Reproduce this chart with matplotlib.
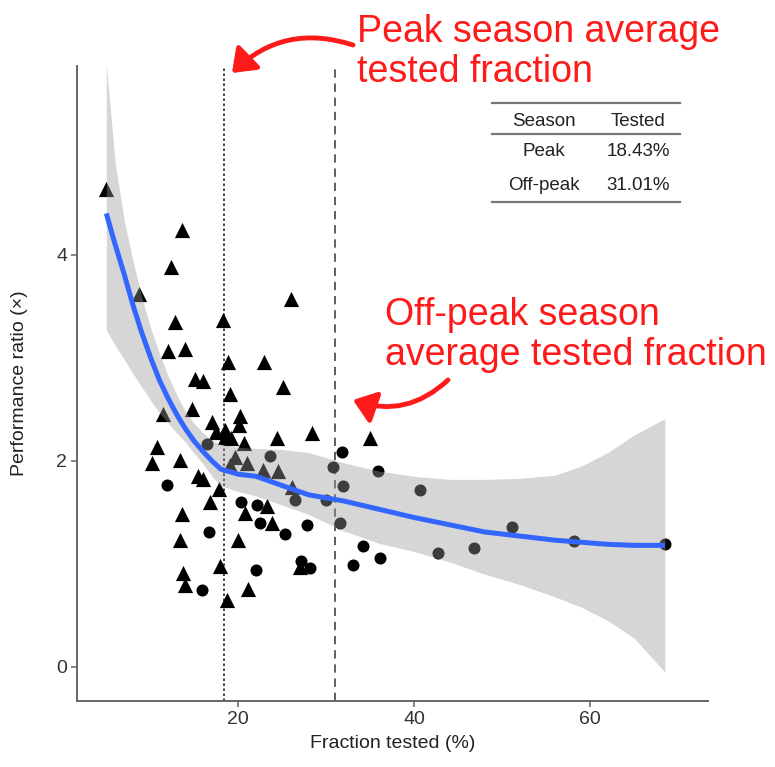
import numpy as np
import matplotlib
matplotlib.use('Agg')
import matplotlib.pyplot as plt
from matplotlib.lines import Line2D
from matplotlib.patches import FancyArrowPatch

plt.rcParams.update({
    'font.family': ['Liberation Sans', 'DejaVu Sans'],
    'font.size': 14,
})

W, H = 775, 767

# --- data ---
tri_x = [4.93, 13.57, 12.32, 8.72, 25.95, 12.81, 18.26, 12.05, 13.94, 18.86,
         22.92, 15.08, 15.95, 25.05, 19.06, 14.70, 11.48, 20.19, 20.08, 17.05,
         28.41, 24.36, 10.73, 34.97, 17.5, 18.5, 19.2, 20.6, 18.5, 10.16,
         13.37, 19.6, 20.95, 19.06, 22.84, 24.55, 15.45, 16.02, 17.84, 26.07,
         16.78, 20.76, 23.23, 23.8, 13.57, 13.37, 20.0, 17.92, 13.75, 13.94,
         21.14, 18.68, 27.0]
tri_y = [4.64, 4.24, 3.88, 3.62, 3.57, 3.35, 3.37, 3.07, 3.08, 2.96,
         2.96, 2.79, 2.77, 2.72, 2.65, 2.50, 2.45, 2.43, 2.35, 2.38,
         2.27, 2.22, 2.13, 2.22, 2.28, 2.23, 2.22, 2.17, 2.30, 1.98,
         2.01, 2.04, 1.98, 1.96, 1.91, 1.90, 1.85, 1.82, 1.73, 1.75,
         1.60, 1.49, 1.56, 1.40, 1.48, 1.23, 1.23, 0.98, 0.91, 0.80,
         0.76, 0.65, 0.97]

circ_x = [11.86, 16.4, 23.6, 31.75, 30.73, 35.9, 31.93, 40.7, 26.4, 30.0,
          20.27, 22.16, 22.47, 27.77, 31.56, 25.3, 16.7, 34.2, 36.1, 33.0,
          27.09, 28.15, 22.0, 15.84, 42.7, 51.07, 58.15, 68.5, 46.8]
circ_y = [1.77, 2.16, 2.05, 2.09, 1.94, 1.90, 1.76, 1.72, 1.62, 1.62,
          1.60, 1.57, 1.40, 1.38, 1.40, 1.29, 1.31, 1.17, 1.06, 0.99,
          1.03, 0.96, 0.94, 0.75, 1.11, 1.36, 1.22, 1.19, 1.15]

fit_x = [5, 6, 7, 8, 9, 10, 11, 12, 13, 14, 15, 16, 17, 18, 20, 22, 25, 28,
         32, 36, 40, 44, 48, 52, 56, 59, 62, 65, 68.5]
fit_y = [4.40, 4.10, 3.82, 3.52, 3.25, 3.01, 2.79, 2.61, 2.45, 2.31, 2.19,
         2.09, 2.00, 1.92, 1.87, 1.85, 1.76, 1.67, 1.61, 1.53, 1.45, 1.38,
         1.31, 1.27, 1.23, 1.21, 1.19, 1.18, 1.18]
fit_hi = [5.85, 4.90, 4.35, 3.95, 3.60, 3.30, 3.05, 2.83, 2.64, 2.48, 2.36,
          2.27, 2.20, 2.16, 2.13, 2.12, 2.11, 2.08, 1.98, 1.90, 1.85, 1.82,
          1.82, 1.83, 1.86, 1.95, 2.08, 2.25, 2.41]
fit_lo = [3.27, 3.12, 2.99, 2.85, 2.72, 2.59, 2.47, 2.37, 2.27, 2.18, 2.07,
          1.97, 1.85, 1.76, 1.70, 1.66, 1.57, 1.48, 1.32, 1.20, 1.12, 1.02,
          0.90, 0.80, 0.68, 0.58, 0.45, 0.28, -0.05]

peak_avg = 18.43
offpeak_avg = 31.01

table_head = ['Season', 'Tested']
table_seasons = ['Peak', 'Off-peak']
table_values = ['18.43%', '31.01%']


def fx(px):
    return px / W


def fy(py):
    return 1 - py / H


fig = plt.figure(figsize=(W / 100, H / 100), dpi=100)
ax = fig.add_axes([fx(77), fy(701), (708 - 77) / W, (701 - 66) / H])

ax.scatter(tri_x, tri_y, marker='^', s=120, color='black', linewidths=0, zorder=2)
ax.scatter(circ_x, circ_y, marker='o', s=75, color='black', linewidths=0, zorder=2)

# smoother ribbon drawn over the points, like geom_smooth
ax.fill_between(fit_x, fit_lo, fit_hi, color='#999999', alpha=0.4, linewidth=0, zorder=3)
ax.plot(fit_x, fit_y, color='#3366FF', lw=3.6, solid_capstyle='butt', zorder=4)

ax.axvline(peak_avg, color='#222222', lw=1.2, ls=(0, (1.5, 1.5)), zorder=1)
ax.axvline(offpeak_avg, color='#444444', lw=1.2, ls=(0, (5, 3.5)), zorder=1)

ax.set_xlim(1.67, 73.4)
ax.set_ylim(-0.33, 5.83)
ax.set_xticks([20, 40, 60])
ax.set_yticks([0, 2, 4])
for s in ['top', 'right']:
    ax.spines[s].set_visible(False)
for s in ['left', 'bottom']:
    ax.spines[s].set_color('#666666')
    ax.spines[s].set_linewidth(1.4)
ax.tick_params(length=4, width=1.1, color='#666666', labelcolor='#333333',
               labelsize=14, pad=3)
ax.set_xlabel('Fraction tested (%)', fontsize=14, color='#222222', labelpad=5)
ax.set_ylabel('Performance ratio (\u00d7)', fontsize=14, color='#222222', labelpad=20)

# table in upper right
for ry in [103, 134, 202]:
    fig.add_artist(Line2D([fx(492), fx(680)], [fy(ry), fy(ry)], color='#777777', lw=1.6))
col_x = [544, 638]
fig.text(fx(col_x[0]), fy(121), table_head[0], ha='center', va='center', fontsize=13.5, color='#222222')
fig.text(fx(col_x[1]), fy(121), table_head[1], ha='center', va='center', fontsize=13.5, color='#222222')
for i, row_y in enumerate([152, 186]):
    fig.text(fx(col_x[0]), fy(row_y), table_seasons[i], ha='center', va='center', fontsize=13.5, color='#222222')
    fig.text(fx(col_x[1]), fy(row_y), table_values[i], ha='center', va='center', fontsize=13.5, color='#222222')

# red annotations
red = '#FF1A1A'
fig.text(fx(357), fy(52), 'Peak season average\ntested fraction', color=red,
         fontsize=27, ha='left', va='center', linespacing=1.16)
fig.text(fx(385), fy(335), 'Off-peak season\naverage tested fraction', color=red,
         fontsize=27, ha='left', va='center', linespacing=1.16)
fig.add_artist(FancyArrowPatch(
    (fx(353), fy(45)), (fx(232), fy(73)), transform=fig.transFigure,
    arrowstyle='-|>,head_length=0.6,head_width=0.45', mutation_scale=22,
    connectionstyle='arc3,rad=0.3', color=red, lw=3.5, shrinkA=0, shrinkB=0))
fig.add_artist(FancyArrowPatch(
    (fx(448), fy(380)), (fx(353), fy(400)), transform=fig.transFigure,
    arrowstyle='-|>,head_length=0.6,head_width=0.45', mutation_scale=22,
    connectionstyle='arc3,rad=-0.3', color=red, lw=3.5, shrinkA=0, shrinkB=0))

fig.savefig('out.png', dpi=100)
